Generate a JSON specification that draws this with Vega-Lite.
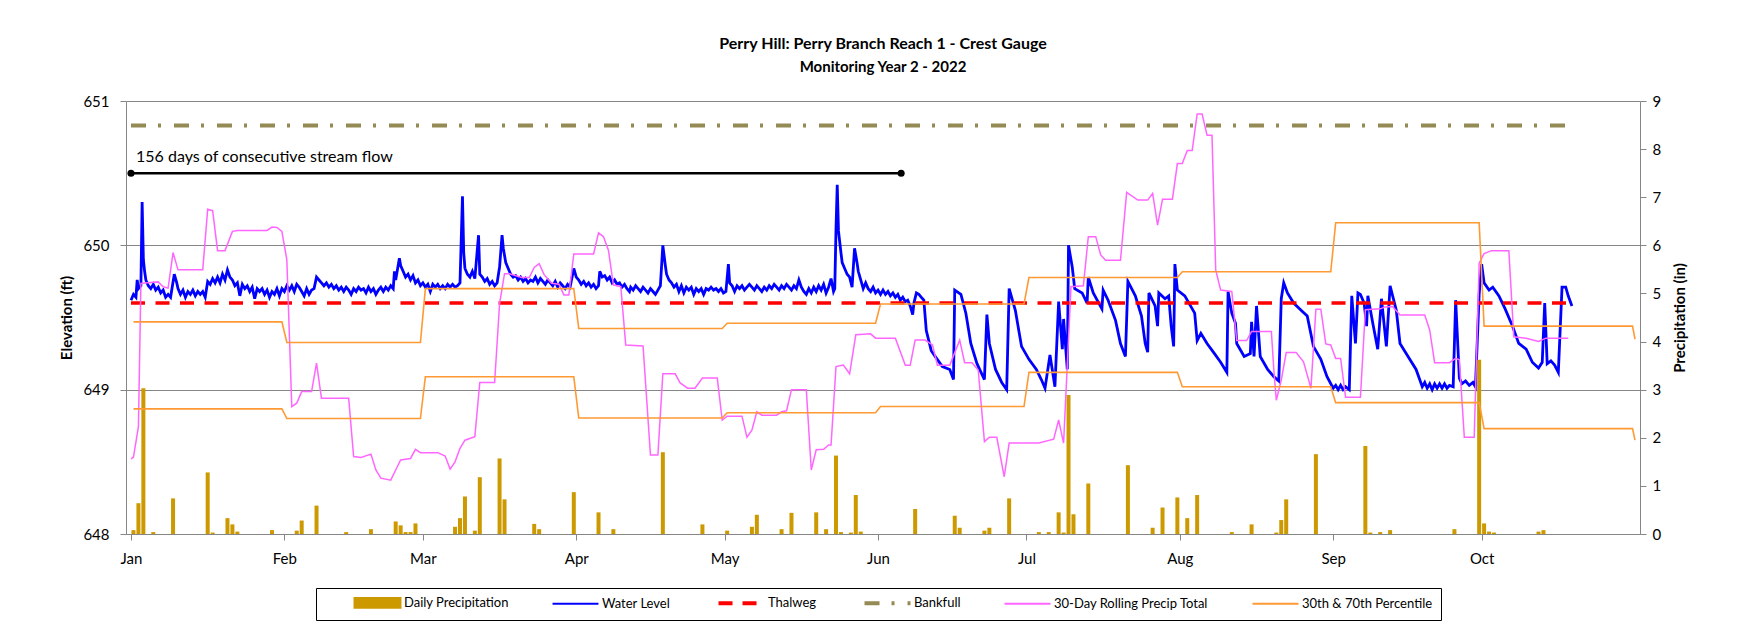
{
"$schema": "https://vega.github.io/schema/vega-lite/v6.json",
"width": 1514, "height": 433,
"autosize": {"type": "none"},
"padding": {"left": 126, "top": 101, "right": 122, "bottom": 92},
"background": "white",
"title": {"text": "Perry Hill: Perry Branch Reach 1 - Crest Gauge", "subtitle": "Monitoring Year 2 - 2022", "anchor": "middle", "frame": "group", "font": "Lato", "fontSize": 16, "fontWeight": "bold", "color": "#000", "subtitleFont": "Lato", "subtitleFontSize": 15, "subtitleFontWeight": "bold", "subtitleColor": "#000", "subtitlePadding": 8, "offset": 19},
"config": {
  "view": {"stroke": null},
  "font": "Lato",
  "axis": {"labelFont": "Lato", "titleFont": "Lato", "labelColor": "#000", "titleColor": "#000", "domainColor": "#868686", "tickColor": "#868686", "gridColor": "#868686", "labelFontSize": 15, "titleFontSize": 15, "titleFontWeight": "bold", "tickSize": 6},
  "legend": {"orient": "none", "legendX": 190, "legendY": 487, "direction": "horizontal", "columns": 6, "symbolSize": 132, "symbolStrokeWidth": 2, "symbolOffset": 16, "labelFont": "Lato", "labelFontSize": 13, "labelColor": "#000", "labelOffset": 20, "labelLimit": 300, "columnPadding": 39, "padding": 8, "strokeColor": "#000", "titleOrient": "left", "titlePadding": 31}
},
"datasets": {
"wl": [
{"t":"2022-01-01T00:00","v":649.62},{"t":"2022-01-01T12:00","v":649.66},{"t":"2022-01-02T00:00","v":649.64},{"t":"2022-01-02T06:00","v":649.76},{"t":"2022-01-02T12:00","v":649.70},{"t":"2022-01-03T00:00","v":649.72},{"t":"2022-01-03T06:00","v":650.30},{"t":"2022-01-03T12:00","v":649.90},{"t":"2022-01-03T18:00","v":649.82},{"t":"2022-01-04T00:00","v":649.76},{"t":"2022-01-04T12:00","v":649.72},{"t":"2022-01-05T00:00","v":649.70},{"t":"2022-01-05T12:00","v":649.73},{"t":"2022-01-06T00:00","v":649.69},{"t":"2022-01-06T12:00","v":649.71},{"t":"2022-01-07T00:00","v":649.67},{"t":"2022-01-07T12:00","v":649.69},{"t":"2022-01-08T00:00","v":649.64},{"t":"2022-01-08T12:00","v":649.66},{"t":"2022-01-09T00:00","v":649.64},{"t":"2022-01-09T18:00","v":649.80},{"t":"2022-01-10T06:00","v":649.74},{"t":"2022-01-10T12:00","v":649.70},{"t":"2022-01-11T00:00","v":649.66},{"t":"2022-01-11T12:00","v":649.69},{"t":"2022-01-12T00:00","v":649.64},{"t":"2022-01-12T12:00","v":649.68},{"t":"2022-01-13T00:00","v":649.66},{"t":"2022-01-13T12:00","v":649.69},{"t":"2022-01-14T00:00","v":649.65},{"t":"2022-01-14T12:00","v":649.68},{"t":"2022-01-15T00:00","v":649.66},{"t":"2022-01-15T12:00","v":649.68},{"t":"2022-01-16T00:00","v":649.64},{"t":"2022-01-16T12:00","v":649.75},{"t":"2022-01-17T00:00","v":649.73},{"t":"2022-01-17T12:00","v":649.77},{"t":"2022-01-18T00:00","v":649.74},{"t":"2022-01-18T12:00","v":649.78},{"t":"2022-01-19T00:00","v":649.74},{"t":"2022-01-19T12:00","v":649.80},{"t":"2022-01-20T00:00","v":649.76},{"t":"2022-01-20T12:00","v":649.83},{"t":"2022-01-21T00:00","v":649.78},{"t":"2022-01-21T12:00","v":649.76},{"t":"2022-01-22T00:00","v":649.72},{"t":"2022-01-22T12:00","v":649.74},{"t":"2022-01-23T00:00","v":649.65},{"t":"2022-01-23T12:00","v":649.73},{"t":"2022-01-24T00:00","v":649.70},{"t":"2022-01-24T12:00","v":649.72},{"t":"2022-01-25T00:00","v":649.68},{"t":"2022-01-25T12:00","v":649.71},{"t":"2022-01-26T00:00","v":649.63},{"t":"2022-01-26T12:00","v":649.70},{"t":"2022-01-27T00:00","v":649.68},{"t":"2022-01-27T12:00","v":649.70},{"t":"2022-01-28T00:00","v":649.66},{"t":"2022-01-28T12:00","v":649.69},{"t":"2022-01-29T00:00","v":649.64},{"t":"2022-01-29T12:00","v":649.68},{"t":"2022-01-30T00:00","v":649.66},{"t":"2022-01-30T12:00","v":649.70},{"t":"2022-01-31T00:00","v":649.65},{"t":"2022-01-31T12:00","v":649.70},
{"t":"2022-02-01T00:00","v":649.68},{"t":"2022-02-01T12:00","v":649.72},{"t":"2022-02-02T00:00","v":649.69},{"t":"2022-02-02T12:00","v":649.72},{"t":"2022-02-03T00:00","v":649.68},{"t":"2022-02-03T12:00","v":649.73},{"t":"2022-02-04T00:00","v":649.71},{"t":"2022-02-04T12:00","v":649.68},{"t":"2022-02-05T00:00","v":649.65},{"t":"2022-02-05T12:00","v":649.70},{"t":"2022-02-06T00:00","v":649.66},{"t":"2022-02-06T12:00","v":649.69},{"t":"2022-02-07T00:00","v":649.70},{"t":"2022-02-07T12:00","v":649.78},{"t":"2022-02-08T00:00","v":649.76},{"t":"2022-02-08T12:00","v":649.74},{"t":"2022-02-09T00:00","v":649.72},{"t":"2022-02-09T12:00","v":649.74},{"t":"2022-02-10T00:00","v":649.71},{"t":"2022-02-10T12:00","v":649.73},{"t":"2022-02-11T00:00","v":649.70},{"t":"2022-02-11T12:00","v":649.72},{"t":"2022-02-12T00:00","v":649.69},{"t":"2022-02-12T12:00","v":649.71},{"t":"2022-02-13T00:00","v":649.68},{"t":"2022-02-13T12:00","v":649.71},{"t":"2022-02-14T00:00","v":649.69},{"t":"2022-02-14T12:00","v":649.66},{"t":"2022-02-15T00:00","v":649.70},{"t":"2022-02-15T12:00","v":649.68},{"t":"2022-02-16T00:00","v":649.71},{"t":"2022-02-16T12:00","v":649.69},{"t":"2022-02-17T00:00","v":649.70},{"t":"2022-02-17T12:00","v":649.67},{"t":"2022-02-18T00:00","v":649.71},{"t":"2022-02-18T12:00","v":649.68},{"t":"2022-02-19T00:00","v":649.70},{"t":"2022-02-19T12:00","v":649.66},{"t":"2022-02-20T00:00","v":649.69},{"t":"2022-02-20T12:00","v":649.71},{"t":"2022-02-21T00:00","v":649.68},{"t":"2022-02-21T12:00","v":649.71},{"t":"2022-02-22T00:00","v":649.69},{"t":"2022-02-22T12:00","v":649.72},{"t":"2022-02-23T00:00","v":649.70},{"t":"2022-02-23T06:00","v":649.82},{"t":"2022-02-23T12:00","v":649.76},{"t":"2022-02-24T06:00","v":649.91},{"t":"2022-02-24T12:00","v":649.86},{"t":"2022-02-25T00:00","v":649.82},{"t":"2022-02-25T12:00","v":649.78},{"t":"2022-02-26T00:00","v":649.80},{"t":"2022-02-26T12:00","v":649.76},{"t":"2022-02-27T00:00","v":649.79},{"t":"2022-02-27T12:00","v":649.74},{"t":"2022-02-28T00:00","v":649.76},{"t":"2022-02-28T12:00","v":649.72},
{"t":"2022-03-01T00:00","v":649.74},{"t":"2022-03-01T12:00","v":649.71},{"t":"2022-03-02T00:00","v":649.73},{"t":"2022-03-02T12:00","v":649.68},{"t":"2022-03-03T00:00","v":649.73},{"t":"2022-03-03T12:00","v":649.71},{"t":"2022-03-04T00:00","v":649.73},{"t":"2022-03-04T12:00","v":649.70},{"t":"2022-03-05T00:00","v":649.72},{"t":"2022-03-05T12:00","v":649.70},{"t":"2022-03-06T00:00","v":649.73},{"t":"2022-03-06T12:00","v":649.71},{"t":"2022-03-07T00:00","v":649.73},{"t":"2022-03-07T12:00","v":649.71},{"t":"2022-03-08T00:00","v":649.72},{"t":"2022-03-08T12:00","v":649.74},{"t":"2022-03-09T00:00","v":650.34},{"t":"2022-03-09T06:00","v":649.95},{"t":"2022-03-09T12:00","v":649.84},{"t":"2022-03-10T00:00","v":649.80},{"t":"2022-03-10T12:00","v":649.78},{"t":"2022-03-11T00:00","v":649.82},{"t":"2022-03-11T12:00","v":649.77},{"t":"2022-03-12T06:00","v":650.07},{"t":"2022-03-12T12:00","v":649.80},{"t":"2022-03-13T00:00","v":649.78},{"t":"2022-03-13T12:00","v":649.75},{"t":"2022-03-14T00:00","v":649.77},{"t":"2022-03-14T12:00","v":649.73},{"t":"2022-03-15T00:00","v":649.75},{"t":"2022-03-15T12:00","v":649.72},{"t":"2022-03-16T00:00","v":649.74},{"t":"2022-03-16T12:00","v":649.85},{"t":"2022-03-17T00:00","v":650.07},{"t":"2022-03-17T06:00","v":649.98},{"t":"2022-03-17T18:00","v":649.88},{"t":"2022-03-18T06:00","v":649.84},{"t":"2022-03-18T18:00","v":649.80},{"t":"2022-03-19T06:00","v":649.78},{"t":"2022-03-19T18:00","v":649.79},{"t":"2022-03-20T06:00","v":649.76},{"t":"2022-03-20T18:00","v":649.78},{"t":"2022-03-21T06:00","v":649.75},{"t":"2022-03-21T18:00","v":649.77},{"t":"2022-03-22T06:00","v":649.74},{"t":"2022-03-22T18:00","v":649.76},{"t":"2022-03-23T06:00","v":649.75},{"t":"2022-03-23T18:00","v":649.78},{"t":"2022-03-24T06:00","v":649.74},{"t":"2022-03-24T18:00","v":649.77},{"t":"2022-03-25T06:00","v":649.75},{"t":"2022-03-25T18:00","v":649.73},{"t":"2022-03-26T06:00","v":649.76},{"t":"2022-03-26T18:00","v":649.74},{"t":"2022-03-27T06:00","v":649.72},{"t":"2022-03-27T18:00","v":649.75},{"t":"2022-03-28T06:00","v":649.71},{"t":"2022-03-28T18:00","v":649.74},{"t":"2022-03-29T06:00","v":649.72},{"t":"2022-03-29T18:00","v":649.70},{"t":"2022-03-30T06:00","v":649.73},{"t":"2022-03-30T18:00","v":649.71},{"t":"2022-03-31T12:00","v":649.84},
{"t":"2022-04-01T00:00","v":649.78},{"t":"2022-04-01T12:00","v":649.76},{"t":"2022-04-02T00:00","v":649.73},{"t":"2022-04-02T12:00","v":649.75},{"t":"2022-04-03T00:00","v":649.72},{"t":"2022-04-03T12:00","v":649.74},{"t":"2022-04-04T00:00","v":649.71},{"t":"2022-04-04T12:00","v":649.73},{"t":"2022-04-05T00:00","v":649.70},{"t":"2022-04-05T12:00","v":649.72},{"t":"2022-04-05T18:00","v":649.82},{"t":"2022-04-06T06:00","v":649.78},{"t":"2022-04-06T18:00","v":649.79},{"t":"2022-04-07T06:00","v":649.76},{"t":"2022-04-07T18:00","v":649.78},{"t":"2022-04-08T06:00","v":649.74},{"t":"2022-04-08T18:00","v":649.76},{"t":"2022-04-09T06:00","v":649.73},{"t":"2022-04-09T18:00","v":649.74},{"t":"2022-04-10T06:00","v":649.71},{"t":"2022-04-10T18:00","v":649.73},{"t":"2022-04-11T06:00","v":649.70},{"t":"2022-04-11T18:00","v":649.68},{"t":"2022-04-12T00:00","v":649.71},{"t":"2022-04-12T12:00","v":649.69},{"t":"2022-04-13T00:00","v":649.72},{"t":"2022-04-13T12:00","v":649.70},{"t":"2022-04-14T00:00","v":649.68},{"t":"2022-04-14T12:00","v":649.71},{"t":"2022-04-15T00:00","v":649.69},{"t":"2022-04-15T12:00","v":649.67},{"t":"2022-04-16T00:00","v":649.70},{"t":"2022-04-16T12:00","v":649.68},{"t":"2022-04-17T00:00","v":649.66},{"t":"2022-04-17T12:00","v":649.69},{"t":"2022-04-18T00:00","v":649.72},{"t":"2022-04-18T12:00","v":650.00},{"t":"2022-04-19T00:00","v":649.86},{"t":"2022-04-19T06:00","v":649.80},{"t":"2022-04-19T18:00","v":649.76},{"t":"2022-04-20T06:00","v":649.74},{"t":"2022-04-20T18:00","v":649.71},{"t":"2022-04-21T06:00","v":649.73},{"t":"2022-04-21T18:00","v":649.68},{"t":"2022-04-22T06:00","v":649.72},{"t":"2022-04-22T18:00","v":649.67},{"t":"2022-04-23T06:00","v":649.71},{"t":"2022-04-23T18:00","v":649.69},{"t":"2022-04-24T06:00","v":649.71},{"t":"2022-04-24T18:00","v":649.66},{"t":"2022-04-25T06:00","v":649.70},{"t":"2022-04-25T18:00","v":649.68},{"t":"2022-04-26T06:00","v":649.70},{"t":"2022-04-26T18:00","v":649.66},{"t":"2022-04-27T06:00","v":649.70},{"t":"2022-04-27T18:00","v":649.69},{"t":"2022-04-28T06:00","v":649.71},{"t":"2022-04-28T18:00","v":649.69},{"t":"2022-04-29T06:00","v":649.70},{"t":"2022-04-29T18:00","v":649.68},{"t":"2022-04-30T06:00","v":649.70},{"t":"2022-04-30T18:00","v":649.67},
{"t":"2022-05-01T06:00","v":649.68},{"t":"2022-05-01T18:00","v":649.87},{"t":"2022-05-02T00:00","v":649.74},{"t":"2022-05-02T12:00","v":649.72},{"t":"2022-05-03T00:00","v":649.68},{"t":"2022-05-03T12:00","v":649.72},{"t":"2022-05-04T00:00","v":649.70},{"t":"2022-05-04T12:00","v":649.72},{"t":"2022-05-05T00:00","v":649.69},{"t":"2022-05-05T12:00","v":649.71},{"t":"2022-05-06T00:00","v":649.73},{"t":"2022-05-06T12:00","v":649.71},{"t":"2022-05-07T00:00","v":649.69},{"t":"2022-05-07T12:00","v":649.72},{"t":"2022-05-08T00:00","v":649.70},{"t":"2022-05-08T12:00","v":649.68},{"t":"2022-05-09T00:00","v":649.71},{"t":"2022-05-09T12:00","v":649.69},{"t":"2022-05-10T00:00","v":649.72},{"t":"2022-05-10T12:00","v":649.70},{"t":"2022-05-11T00:00","v":649.73},{"t":"2022-05-11T12:00","v":649.71},{"t":"2022-05-12T00:00","v":649.69},{"t":"2022-05-12T12:00","v":649.72},{"t":"2022-05-13T00:00","v":649.70},{"t":"2022-05-13T12:00","v":649.73},{"t":"2022-05-14T00:00","v":649.71},{"t":"2022-05-14T12:00","v":649.69},{"t":"2022-05-15T00:00","v":649.72},{"t":"2022-05-15T12:00","v":649.70},{"t":"2022-05-16T00:00","v":649.76},{"t":"2022-05-16T12:00","v":649.71},{"t":"2022-05-17T00:00","v":649.68},{"t":"2022-05-17T12:00","v":649.66},{"t":"2022-05-18T00:00","v":649.70},{"t":"2022-05-18T12:00","v":649.67},{"t":"2022-05-19T00:00","v":649.71},{"t":"2022-05-19T12:00","v":649.68},{"t":"2022-05-20T00:00","v":649.72},{"t":"2022-05-20T12:00","v":649.69},{"t":"2022-05-21T00:00","v":649.73},{"t":"2022-05-21T12:00","v":649.67},{"t":"2022-05-22T00:00","v":649.71},{"t":"2022-05-22T12:00","v":649.77},{"t":"2022-05-23T00:00","v":649.68},{"t":"2022-05-23T06:00","v":649.70},{"t":"2022-05-23T12:00","v":650.11},{"t":"2022-05-23T18:00","v":650.42},{"t":"2022-05-24T00:00","v":650.10},{"t":"2022-05-24T12:00","v":649.95},{"t":"2022-05-24T18:00","v":649.88},{"t":"2022-05-25T06:00","v":649.84},{"t":"2022-05-25T18:00","v":649.80},{"t":"2022-05-26T06:00","v":649.78},{"t":"2022-05-26T18:00","v":649.71},{"t":"2022-05-27T06:00","v":649.98},{"t":"2022-05-27T18:00","v":649.88},{"t":"2022-05-28T00:00","v":649.82},{"t":"2022-05-28T12:00","v":649.76},{"t":"2022-05-29T00:00","v":649.70},{"t":"2022-05-29T12:00","v":649.74},{"t":"2022-05-30T00:00","v":649.70},{"t":"2022-05-30T12:00","v":649.68},{"t":"2022-05-31T00:00","v":649.71},{"t":"2022-05-31T12:00","v":649.67},
{"t":"2022-06-01T00:00","v":649.69},{"t":"2022-06-01T12:00","v":649.66},{"t":"2022-06-02T00:00","v":649.69},{"t":"2022-06-02T12:00","v":649.66},{"t":"2022-06-03T00:00","v":649.68},{"t":"2022-06-03T12:00","v":649.65},{"t":"2022-06-04T00:00","v":649.67},{"t":"2022-06-04T12:00","v":649.64},{"t":"2022-06-05T00:00","v":649.66},{"t":"2022-06-05T12:00","v":649.62},{"t":"2022-06-06T00:00","v":649.64},{"t":"2022-06-06T12:00","v":649.61},{"t":"2022-06-07T00:00","v":649.62},{"t":"2022-06-07T12:00","v":649.58},{"t":"2022-06-08T00:00","v":649.52},{"t":"2022-06-08T06:00","v":649.60},{"t":"2022-06-08T18:00","v":649.67},{"t":"2022-06-09T06:00","v":649.66},{"t":"2022-06-09T18:00","v":649.64},{"t":"2022-06-10T06:00","v":649.62},{"t":"2022-06-10T18:00","v":649.41},{"t":"2022-06-11T18:00","v":649.27},{"t":"2022-06-12T18:00","v":649.22},{"t":"2022-06-14T00:00","v":649.16},{"t":"2022-06-15T12:00","v":649.14},{"t":"2022-06-16T06:00","v":649.07},{"t":"2022-06-16T12:00","v":649.69},{"t":"2022-06-17T18:00","v":649.66},{"t":"2022-06-18T18:00","v":649.53},{"t":"2022-06-19T18:00","v":649.32},{"t":"2022-06-21T00:00","v":649.18},{"t":"2022-06-22T12:00","v":649.07},{"t":"2022-06-23T00:00","v":649.52},{"t":"2022-06-23T12:00","v":649.32},{"t":"2022-06-24T18:00","v":649.14},{"t":"2022-06-26T00:00","v":649.05},{"t":"2022-06-27T00:00","v":649.00},{"t":"2022-06-27T12:00","v":649.70},{"t":"2022-06-28T18:00","v":649.55},{"t":"2022-06-30T00:00","v":649.30},
{"t":"2022-07-01T12:00","v":649.21},{"t":"2022-07-03T00:00","v":649.14},{"t":"2022-07-04T00:00","v":649.07},{"t":"2022-07-04T18:00","v":649.01},{"t":"2022-07-05T18:00","v":649.24},{"t":"2022-07-06T18:00","v":649.02},{"t":"2022-07-07T12:00","v":649.61},{"t":"2022-07-08T06:00","v":649.28},{"t":"2022-07-08T12:00","v":649.49},{"t":"2022-07-09T06:00","v":649.14},{"t":"2022-07-09T12:00","v":650.00},{"t":"2022-07-10T06:00","v":649.85},{"t":"2022-07-10T18:00","v":649.70},{"t":"2022-07-12T06:00","v":649.67},{"t":"2022-07-13T06:00","v":649.60},{"t":"2022-07-13T12:00","v":649.78},{"t":"2022-07-14T12:00","v":649.67},{"t":"2022-07-16T06:00","v":649.56},{"t":"2022-07-16T12:00","v":649.69},{"t":"2022-07-17T12:00","v":649.62},{"t":"2022-07-19T00:00","v":649.48},{"t":"2022-07-20T00:00","v":649.32},{"t":"2022-07-21T00:00","v":649.23},{"t":"2022-07-21T12:00","v":649.75},{"t":"2022-07-23T00:00","v":649.65},{"t":"2022-07-24T06:00","v":649.51},{"t":"2022-07-25T00:00","v":649.32},{"t":"2022-07-25T12:00","v":649.26},{"t":"2022-07-25T18:00","v":649.67},{"t":"2022-07-27T00:00","v":649.58},{"t":"2022-07-27T12:00","v":649.44},{"t":"2022-07-27T18:00","v":649.67},{"t":"2022-07-29T00:00","v":649.63},{"t":"2022-07-29T18:00","v":649.65},{"t":"2022-07-30T06:00","v":649.44},{"t":"2022-07-30T18:00","v":649.30},{"t":"2022-07-31T00:00","v":649.87},{"t":"2022-07-31T12:00","v":649.69},
{"t":"2022-08-02T00:00","v":649.65},{"t":"2022-08-04T00:00","v":649.53},{"t":"2022-08-04T12:00","v":649.34},{"t":"2022-08-05T06:00","v":649.39},{"t":"2022-08-06T12:00","v":649.32},{"t":"2022-08-08T00:00","v":649.25},{"t":"2022-08-09T06:00","v":649.19},{"t":"2022-08-10T12:00","v":649.12},{"t":"2022-08-10T18:00","v":649.68},{"t":"2022-08-11T12:00","v":649.53},{"t":"2022-08-12T06:00","v":649.46},{"t":"2022-08-12T12:00","v":649.32},{"t":"2022-08-14T00:00","v":649.23},{"t":"2022-08-15T06:00","v":649.25},{"t":"2022-08-15T12:00","v":649.47},{"t":"2022-08-16T00:00","v":649.23},{"t":"2022-08-16T12:00","v":649.58},{"t":"2022-08-17T06:00","v":649.23},{"t":"2022-08-18T18:00","v":649.14},{"t":"2022-08-20T00:00","v":649.09},{"t":"2022-08-21T00:00","v":649.06},{"t":"2022-08-21T12:00","v":649.63},{"t":"2022-08-22T00:00","v":649.74},{"t":"2022-08-22T18:00","v":649.67},{"t":"2022-08-24T00:00","v":649.60},{"t":"2022-08-25T12:00","v":649.55},{"t":"2022-08-26T18:00","v":649.51},{"t":"2022-08-28T00:00","v":649.30},{"t":"2022-08-29T12:00","v":649.21},{"t":"2022-08-30T18:00","v":649.09},
{"t":"2022-09-01T00:00","v":649.01},{"t":"2022-09-01T12:00","v":649.03},{"t":"2022-09-02T00:00","v":649.00},{"t":"2022-09-02T12:00","v":649.03},{"t":"2022-09-03T00:00","v":649.00},{"t":"2022-09-03T12:00","v":649.02},{"t":"2022-09-04T06:00","v":649.00},{"t":"2022-09-04T18:00","v":649.65},{"t":"2022-09-05T12:00","v":649.32},{"t":"2022-09-06T00:00","v":649.67},{"t":"2022-09-06T12:00","v":649.66},{"t":"2022-09-07T06:00","v":649.60},{"t":"2022-09-07T18:00","v":649.44},{"t":"2022-09-08T00:00","v":649.65},{"t":"2022-09-09T00:00","v":649.46},{"t":"2022-09-10T00:00","v":649.28},{"t":"2022-09-10T18:00","v":649.63},{"t":"2022-09-11T18:00","v":649.30},{"t":"2022-09-12T12:00","v":649.72},{"t":"2022-09-13T18:00","v":649.55},{"t":"2022-09-14T12:00","v":649.32},{"t":"2022-09-15T18:00","v":649.25},{"t":"2022-09-17T18:00","v":649.14},{"t":"2022-09-19T00:00","v":649.02},{"t":"2022-09-19T12:00","v":649.05},{"t":"2022-09-20T00:00","v":649.01},{"t":"2022-09-20T12:00","v":649.04},{"t":"2022-09-21T00:00","v":649.00},{"t":"2022-09-21T12:00","v":649.04},{"t":"2022-09-22T00:00","v":649.01},{"t":"2022-09-22T12:00","v":649.04},{"t":"2022-09-23T00:00","v":649.01},{"t":"2022-09-23T12:00","v":649.04},{"t":"2022-09-24T00:00","v":649.01},{"t":"2022-09-24T12:00","v":649.03},{"t":"2022-09-25T06:00","v":649.02},{"t":"2022-09-25T18:00","v":649.62},{"t":"2022-09-26T12:00","v":649.08},{"t":"2022-09-27T00:00","v":649.04},{"t":"2022-09-27T18:00","v":649.06},{"t":"2022-09-28T12:00","v":649.03},{"t":"2022-09-29T06:00","v":649.05},{"t":"2022-09-29T18:00","v":649.02},{"t":"2022-09-30T12:00","v":649.66},
{"t":"2022-10-01T00:00","v":649.87},{"t":"2022-10-01T12:00","v":649.74},{"t":"2022-10-02T12:00","v":649.69},{"t":"2022-10-03T06:00","v":649.71},{"t":"2022-10-04T12:00","v":649.65},{"t":"2022-10-05T18:00","v":649.56},{"t":"2022-10-07T06:00","v":649.44},{"t":"2022-10-08T12:00","v":649.32},{"t":"2022-10-10T00:00","v":649.28},{"t":"2022-10-11T06:00","v":649.19},{"t":"2022-10-12T12:00","v":649.15},{"t":"2022-10-13T06:00","v":649.19},{"t":"2022-10-13T18:00","v":649.60},{"t":"2022-10-14T06:00","v":649.18},{"t":"2022-10-15T00:00","v":649.20},{"t":"2022-10-15T18:00","v":649.17},{"t":"2022-10-16T12:00","v":649.12},{"t":"2022-10-17T06:00","v":649.71},{"t":"2022-10-18T00:00","v":649.71},{"t":"2022-10-18T12:00","v":649.65},{"t":"2022-10-19T06:00","v":649.58}
],
"thalweg": [{"t":"2022-01-01T00:00","v":649.6},{"t":"2022-10-19T08:00","v":649.6}],
"bankfull": [{"t":"2022-01-01T00:00","v":650.83},{"t":"2022-10-19T08:00","v":650.83}],
"flow": [{"t":"2022-01-01T00:00","v":650.5},{"t":"2022-06-05T16:00","v":650.5}],
"note": [{"t":"2022-01-01T00:00","v":650.5,"label":"156 days of consecutive stream flow"}],
"precip": [
{"t":"2022-01-01T12:00","p":0.08},{"t":"2022-01-02T12:00","p":0.64},{"t":"2022-01-03T12:00","p":3.03},{"t":"2022-01-05T12:00","p":0.04},{"t":"2022-01-09T12:00","p":0.74},{"t":"2022-01-16T12:00","p":1.28},{"t":"2022-01-17T12:00","p":0.03},{"t":"2022-01-20T12:00","p":0.33},{"t":"2022-01-21T12:00","p":0.20},{"t":"2022-01-22T12:00","p":0.05},{"t":"2022-01-29T12:00","p":0.08},
{"t":"2022-02-03T12:00","p":0.07},{"t":"2022-02-04T12:00","p":0.28},{"t":"2022-02-07T12:00","p":0.59},{"t":"2022-02-13T12:00","p":0.04},{"t":"2022-02-18T12:00","p":0.10},{"t":"2022-02-23T12:00","p":0.26},{"t":"2022-02-24T12:00","p":0.18},{"t":"2022-02-25T12:00","p":0.04},{"t":"2022-02-26T12:00","p":0.04},{"t":"2022-02-27T12:00","p":0.22},
{"t":"2022-03-07T12:00","p":0.15},{"t":"2022-03-08T12:00","p":0.33},{"t":"2022-03-09T12:00","p":0.78},{"t":"2022-03-11T12:00","p":0.07},{"t":"2022-03-12T12:00","p":1.18},{"t":"2022-03-16T12:00","p":1.57},{"t":"2022-03-17T12:00","p":0.72},{"t":"2022-03-23T12:00","p":0.21},{"t":"2022-03-24T12:00","p":0.10},{"t":"2022-03-31T12:00","p":0.87},
{"t":"2022-04-05T12:00","p":0.45},{"t":"2022-04-08T12:00","p":0.10},{"t":"2022-04-18T12:00","p":1.70},{"t":"2022-04-26T12:00","p":0.20},
{"t":"2022-05-01T12:00","p":0.07},{"t":"2022-05-06T12:00","p":0.15},{"t":"2022-05-07T12:00","p":0.40},{"t":"2022-05-12T12:00","p":0.10},{"t":"2022-05-14T12:00","p":0.44},{"t":"2022-05-19T12:00","p":0.45},{"t":"2022-05-21T12:00","p":0.10},{"t":"2022-05-23T12:00","p":1.63},{"t":"2022-05-24T12:00","p":0.04},{"t":"2022-05-26T12:00","p":0.03},{"t":"2022-05-27T12:00","p":0.81},{"t":"2022-05-28T12:00","p":0.05},
{"t":"2022-06-08T12:00","p":0.52},{"t":"2022-06-16T12:00","p":0.38},{"t":"2022-06-17T12:00","p":0.13},{"t":"2022-06-22T12:00","p":0.07},{"t":"2022-06-23T12:00","p":0.13},{"t":"2022-06-27T12:00","p":0.74},
{"t":"2022-07-03T12:00","p":0.04},{"t":"2022-07-05T12:00","p":0.04},{"t":"2022-07-07T12:00","p":0.45},{"t":"2022-07-08T12:00","p":0.03},{"t":"2022-07-09T12:00","p":2.89},{"t":"2022-07-10T12:00","p":0.41},{"t":"2022-07-13T12:00","p":1.05},{"t":"2022-07-21T12:00","p":1.43},{"t":"2022-07-26T12:00","p":0.13},{"t":"2022-07-28T12:00","p":0.55},{"t":"2022-07-31T12:00","p":0.76},
{"t":"2022-08-02T12:00","p":0.33},{"t":"2022-08-04T12:00","p":0.81},{"t":"2022-08-11T12:00","p":0.04},{"t":"2022-08-15T12:00","p":0.20},{"t":"2022-08-20T12:00","p":0.03},{"t":"2022-08-21T12:00","p":0.29},{"t":"2022-08-22T12:00","p":0.72},{"t":"2022-08-28T12:00","p":1.66},
{"t":"2022-09-07T12:00","p":1.83},{"t":"2022-09-08T12:00","p":0.03},{"t":"2022-09-10T12:00","p":0.04},{"t":"2022-09-12T12:00","p":0.08},{"t":"2022-09-25T12:00","p":0.10},{"t":"2022-09-30T12:00","p":3.62},
{"t":"2022-10-01T12:00","p":0.22},{"t":"2022-10-02T12:00","p":0.05},{"t":"2022-10-03T12:00","p":0.03},{"t":"2022-10-12T12:00","p":0.05},{"t":"2022-10-13T12:00","p":0.08}
],
"roll": [
{"t":"2022-01-01T00:00","p":1.56},{"t":"2022-01-01T12:00","p":1.60},{"t":"2022-01-02T12:00","p":2.23},{"t":"2022-01-03T00:00","p":5.21},{"t":"2022-01-06T12:00","p":5.24},{"t":"2022-01-07T12:00","p":5.14},{"t":"2022-01-08T12:00","p":5.11},{"t":"2022-01-09T12:00","p":5.85},{"t":"2022-01-10T12:00","p":5.49},{"t":"2022-01-15T12:00","p":5.49},{"t":"2022-01-16T12:00","p":6.75},{"t":"2022-01-17T12:00","p":6.72},{"t":"2022-01-18T12:00","p":5.89},{"t":"2022-01-20T00:00","p":5.89},{"t":"2022-01-21T12:00","p":6.29},{"t":"2022-01-22T12:00","p":6.31},{"t":"2022-01-28T12:00","p":6.31},{"t":"2022-01-29T12:00","p":6.38},{"t":"2022-01-30T12:00","p":6.37},{"t":"2022-01-31T12:00","p":6.29},
{"t":"2022-02-01T12:00","p":5.70},{"t":"2022-02-02T12:00","p":2.65},{"t":"2022-02-03T12:00","p":2.72},{"t":"2022-02-04T12:00","p":2.96},{"t":"2022-02-06T12:00","p":2.96},{"t":"2022-02-07T12:00","p":3.55},{"t":"2022-02-08T12:00","p":2.82},{"t":"2022-02-14T00:00","p":2.82},{"t":"2022-02-15T00:00","p":1.61},{"t":"2022-02-16T12:00","p":1.59},{"t":"2022-02-18T12:00","p":1.66},{"t":"2022-02-19T12:00","p":1.33},{"t":"2022-02-20T12:00","p":1.16},{"t":"2022-02-22T12:00","p":1.12},{"t":"2022-02-23T12:00","p":1.33},{"t":"2022-02-24T12:00","p":1.54},{"t":"2022-02-26T12:00","p":1.57},{"t":"2022-02-27T12:00","p":1.76},{"t":"2022-02-28T12:00","p":1.69},
{"t":"2022-03-04T00:00","p":1.69},{"t":"2022-03-05T12:00","p":1.62},{"t":"2022-03-06T12:00","p":1.35},{"t":"2022-03-07T12:00","p":1.50},{"t":"2022-03-08T12:00","p":1.78},{"t":"2022-03-09T12:00","p":1.95},{"t":"2022-03-11T12:00","p":2.02},{"t":"2022-03-12T12:00","p":3.15},{"t":"2022-03-15T12:00","p":3.15},{"t":"2022-03-16T12:00","p":4.79},{"t":"2022-03-17T12:00","p":5.41},{"t":"2022-03-18T12:00","p":5.41},{"t":"2022-03-21T00:00","p":5.33},{"t":"2022-03-22T12:00","p":5.33},{"t":"2022-03-23T12:00","p":5.54},{"t":"2022-03-24T12:00","p":5.62},{"t":"2022-03-25T12:00","p":5.39},{"t":"2022-03-27T00:00","p":5.21},{"t":"2022-03-28T12:00","p":5.19},{"t":"2022-03-29T12:00","p":4.97},{"t":"2022-03-30T12:00","p":4.97},{"t":"2022-03-31T12:00","p":5.82},
{"t":"2022-04-04T12:00","p":5.82},{"t":"2022-04-05T12:00","p":6.26},{"t":"2022-04-06T12:00","p":6.18},{"t":"2022-04-07T12:00","p":5.90},{"t":"2022-04-08T12:00","p":5.18},{"t":"2022-04-10T00:00","p":5.14},{"t":"2022-04-11T00:00","p":3.93},{"t":"2022-04-14T12:00","p":3.91},{"t":"2022-04-16T00:00","p":1.64},{"t":"2022-04-17T12:00","p":1.64},{"t":"2022-04-18T12:00","p":3.33},{"t":"2022-04-21T00:00","p":3.33},{"t":"2022-04-22T00:00","p":3.14},{"t":"2022-04-23T12:00","p":3.03},{"t":"2022-04-25T00:00","p":3.03},{"t":"2022-04-26T12:00","p":3.24},{"t":"2022-04-29T12:00","p":3.24},{"t":"2022-04-30T12:00","p":2.37},
{"t":"2022-05-01T12:00","p":2.45},{"t":"2022-05-04T12:00","p":2.45},{"t":"2022-05-05T12:00","p":2.01},{"t":"2022-05-06T12:00","p":2.16},{"t":"2022-05-07T12:00","p":2.54},{"t":"2022-05-08T12:00","p":2.47},{"t":"2022-05-11T12:00","p":2.47},{"t":"2022-05-12T12:00","p":2.54},{"t":"2022-05-13T12:00","p":2.56},{"t":"2022-05-14T12:00","p":3.00},{"t":"2022-05-17T12:00","p":3.00},{"t":"2022-05-18T12:00","p":1.33},{"t":"2022-05-19T12:00","p":1.75},{"t":"2022-05-21T00:00","p":1.76},{"t":"2022-05-22T00:00","p":1.85},{"t":"2022-05-22T12:00","p":1.85},{"t":"2022-05-23T12:00","p":3.48},{"t":"2022-05-25T00:00","p":3.51},{"t":"2022-05-26T06:00","p":3.33},{"t":"2022-05-27T12:00","p":4.14},{"t":"2022-05-30T12:00","p":4.16},{"t":"2022-05-31T12:00","p":4.07},
{"t":"2022-06-04T12:00","p":4.07},{"t":"2022-06-06T12:00","p":3.51},{"t":"2022-06-07T12:00","p":3.51},{"t":"2022-06-08T12:00","p":4.03},{"t":"2022-06-10T12:00","p":4.03},{"t":"2022-06-12T00:00","p":3.93},{"t":"2022-06-13T00:00","p":3.51},{"t":"2022-06-15T12:00","p":3.51},{"t":"2022-06-17T12:00","p":4.03},{"t":"2022-06-18T12:00","p":3.56},{"t":"2022-06-20T00:00","p":3.56},{"t":"2022-06-21T06:00","p":3.41},{"t":"2022-06-22T12:00","p":1.92},{"t":"2022-06-23T12:00","p":2.01},{"t":"2022-06-25T00:00","p":2.01},{"t":"2022-06-26T12:00","p":1.19},{"t":"2022-06-27T12:00","p":1.89},
{"t":"2022-07-03T12:00","p":1.89},{"t":"2022-07-06T12:00","p":1.97},{"t":"2022-07-07T12:00","p":2.37},{"t":"2022-07-08T12:00","p":1.89},{"t":"2022-07-10T00:00","p":5.14},{"t":"2022-07-12T12:00","p":5.16},{"t":"2022-07-13T12:00","p":6.18},{"t":"2022-07-15T00:00","p":6.18},{"t":"2022-07-16T00:00","p":5.80},{"t":"2022-07-17T00:00","p":5.69},{"t":"2022-07-20T00:00","p":5.69},{"t":"2022-07-21T06:00","p":7.10},{"t":"2022-07-23T12:00","p":6.94},{"t":"2022-07-25T12:00","p":6.94},{"t":"2022-07-26T12:00","p":7.08},{"t":"2022-07-27T12:00","p":6.42},{"t":"2022-07-28T12:00","p":6.96},{"t":"2022-07-30T12:00","p":6.96},{"t":"2022-07-31T12:00","p":7.70},
{"t":"2022-08-01T12:00","p":7.70},{"t":"2022-08-02T12:00","p":7.97},{"t":"2022-08-03T12:00","p":7.97},{"t":"2022-08-04T12:00","p":8.73},{"t":"2022-08-05T12:00","p":8.73},{"t":"2022-08-06T12:00","p":8.29},{"t":"2022-08-07T12:00","p":8.29},{"t":"2022-08-08T06:00","p":5.49},{"t":"2022-08-09T06:00","p":5.07},{"t":"2022-08-11T12:00","p":5.04},{"t":"2022-08-12T12:00","p":4.02},{"t":"2022-08-14T12:00","p":4.02},{"t":"2022-08-15T12:00","p":4.21},{"t":"2022-08-19T12:00","p":4.21},{"t":"2022-08-20T00:00","p":3.41},{"t":"2022-08-20T12:00","p":2.78},{"t":"2022-08-21T12:00","p":3.20},{"t":"2022-08-22T12:00","p":3.77},{"t":"2022-08-24T12:00","p":3.77},{"t":"2022-08-26T00:00","p":3.58},{"t":"2022-08-27T12:00","p":3.03},{"t":"2022-08-28T12:00","p":4.67},{"t":"2022-08-29T12:00","p":4.67},{"t":"2022-08-30T12:00","p":3.95},{"t":"2022-08-31T12:00","p":3.93},
{"t":"2022-09-01T12:00","p":3.65},{"t":"2022-09-02T12:00","p":3.65},{"t":"2022-09-03T12:00","p":2.84},{"t":"2022-09-06T12:00","p":2.84},{"t":"2022-09-07T12:00","p":4.66},{"t":"2022-09-10T12:00","p":4.68},{"t":"2022-09-11T12:00","p":4.72},{"t":"2022-09-13T00:00","p":4.73},{"t":"2022-09-14T12:00","p":4.55},{"t":"2022-09-19T12:00","p":4.55},{"t":"2022-09-20T12:00","p":4.24},{"t":"2022-09-21T12:00","p":3.56},{"t":"2022-09-24T12:00","p":3.56},{"t":"2022-09-25T18:00","p":3.65},{"t":"2022-09-26T12:00","p":3.62},{"t":"2022-09-27T12:00","p":2.01},{"t":"2022-09-29T12:00","p":2.01},{"t":"2022-09-30T12:00","p":5.63},
{"t":"2022-10-01T12:00","p":5.83},{"t":"2022-10-03T00:00","p":5.89},{"t":"2022-10-06T12:00","p":5.89},{"t":"2022-10-07T12:00","p":4.10},{"t":"2022-10-10T00:00","p":4.07},{"t":"2022-10-12T12:00","p":4.00},{"t":"2022-10-14T00:00","p":4.07},{"t":"2022-10-18T12:00","p":4.07}
],
"pct": [
{"t":"2022-01-01T12:00","p":4.41,"k":"70th"},{"t":"2022-01-31T12:00","p":4.41,"k":"70th"},{"t":"2022-02-01T12:00","p":3.98,"k":"70th"},{"t":"2022-02-28T12:00","p":3.98,"k":"70th"},{"t":"2022-03-01T12:00","p":5.10,"k":"70th"},{"t":"2022-03-31T12:00","p":5.10,"k":"70th"},{"t":"2022-04-01T12:00","p":4.27,"k":"70th"},{"t":"2022-04-30T12:00","p":4.27,"k":"70th"},{"t":"2022-05-01T12:00","p":4.38,"k":"70th"},{"t":"2022-05-31T12:00","p":4.38,"k":"70th"},{"t":"2022-06-01T12:00","p":4.78,"k":"70th"},{"t":"2022-06-30T12:00","p":4.78,"k":"70th"},{"t":"2022-07-01T12:00","p":5.33,"k":"70th"},{"t":"2022-07-31T12:00","p":5.33,"k":"70th"},{"t":"2022-08-01T12:00","p":5.45,"k":"70th"},{"t":"2022-08-31T12:00","p":5.45,"k":"70th"},{"t":"2022-09-01T12:00","p":6.47,"k":"70th"},{"t":"2022-09-30T12:00","p":6.47,"k":"70th"},{"t":"2022-10-01T12:00","p":4.32,"k":"70th"},{"t":"2022-10-31T12:00","p":4.32,"k":"70th"},{"t":"2022-11-01T00:00","p":4.05,"k":"70th"},
{"t":"2022-01-01T12:00","p":2.60,"k":"30th"},{"t":"2022-01-31T12:00","p":2.60,"k":"30th"},{"t":"2022-02-01T12:00","p":2.40,"k":"30th"},{"t":"2022-02-28T12:00","p":2.40,"k":"30th"},{"t":"2022-03-01T12:00","p":3.27,"k":"30th"},{"t":"2022-03-31T12:00","p":3.27,"k":"30th"},{"t":"2022-04-01T12:00","p":2.41,"k":"30th"},{"t":"2022-04-30T12:00","p":2.41,"k":"30th"},{"t":"2022-05-01T12:00","p":2.52,"k":"30th"},{"t":"2022-05-31T12:00","p":2.52,"k":"30th"},{"t":"2022-06-01T12:00","p":2.65,"k":"30th"},{"t":"2022-06-30T12:00","p":2.65,"k":"30th"},{"t":"2022-07-01T12:00","p":3.36,"k":"30th"},{"t":"2022-07-31T12:00","p":3.36,"k":"30th"},{"t":"2022-08-01T12:00","p":3.06,"k":"30th"},{"t":"2022-08-31T12:00","p":3.06,"k":"30th"},{"t":"2022-09-01T12:00","p":2.73,"k":"30th"},{"t":"2022-09-30T12:00","p":2.73,"k":"30th"},{"t":"2022-10-01T12:00","p":2.19,"k":"30th"},{"t":"2022-10-31T12:00","p":2.19,"k":"30th"},{"t":"2022-11-01T00:00","p":1.95,"k":"30th"}
]
},
"layer": [
{
 "encoding": {
  "x": {"field": "t", "type": "temporal", "scale": {"domain": [{"year": 2022, "month": 1, "date": 1}, {"year": 2022, "month": 11, "date": 1}]}, "axis": {"title": null, "format": "%b", "values": [{"year":2022,"month":1,"date":1},{"year":2022,"month":2,"date":1},{"year":2022,"month":3,"date":1},{"year":2022,"month":4,"date":1},{"year":2022,"month":5,"date":1},{"year":2022,"month":6,"date":1},{"year":2022,"month":7,"date":1},{"year":2022,"month":8,"date":1},{"year":2022,"month":9,"date":1},{"year":2022,"month":10,"date":1}], "labelFlush": false, "labelOverlap": false, "grid": false, "labelPadding": 11}},
  "y": {"field": "v", "type": "quantitative", "scale": {"domain": [648, 651], "zero": false, "nice": false}, "axis": {"orient": "left", "title": "Elevation (ft)", "values": [648, 649, 650, 651], "format": "d", "grid": true, "labelPadding": 11, "titlePadding": 8}}
 },
 "layer": [
  {"data": {"name": "wl"}, "mark": {"type": "line", "strokeWidth": 2.8, "strokeJoin": "miter"},
   "encoding": {"color": {"datum": "Water Level", "scale": {"domain": ["Daily Precipitation", "Water Level", "Thalweg", "Bankfull", "30-Day Rolling Precip Total", "30th & 70th Percentile"], "range": ["#CC9900", "#0000FF", "#FF0000", "#948A54", "#FF66FF", "#FF9933"]},
     "legend": {"title": " ", "symbolType": "stroke", "encode": {"symbols": {"update": {
       "shape": {"signal": "datum.value === 'Daily Precipitation' ? 'M-4,-0.85H4V0.85H-4Z' : 'M-4,0H4'"},
       "stroke": {"scale": "color", "field": "value"},
       "fill": {"signal": "datum.value === 'Daily Precipitation' ? '#CC9900' : 'transparent'"},
       "strokeCap": {"value": "butt"},
       "strokeWidth": {"signal": "(datum.value === 'Thalweg' || datum.value === 'Bankfull') ? 4 : 2"},
       "strokeDash": {"signal": "datum.value === 'Thalweg' ? [14, 10] : datum.value === 'Bankfull' ? [15, 12, 3, 13] : [1, 0]"}}}}}}}},
  {"data": {"name": "thalweg"}, "mark": {"type": "line", "strokeWidth": 3.5, "strokeDash": [14, 10.5], "strokeCap": "butt"},
   "encoding": {"color": {"datum": "Thalweg", "scale": {"domain": ["Daily Precipitation", "Water Level", "Thalweg", "Bankfull", "30-Day Rolling Precip Total", "30th & 70th Percentile"], "range": ["#CC9900", "#0000FF", "#FF0000", "#948A54", "#FF66FF", "#FF9933"]}, "legend": {"title": " ", "symbolType": "stroke"}}}},
  {"data": {"name": "bankfull"}, "mark": {"type": "line", "strokeWidth": 4, "strokeDash": [15, 12, 3, 13], "strokeCap": "butt"},
   "encoding": {"color": {"datum": "Bankfull", "scale": {"domain": ["Daily Precipitation", "Water Level", "Thalweg", "Bankfull", "30-Day Rolling Precip Total", "30th & 70th Percentile"], "range": ["#CC9900", "#0000FF", "#FF0000", "#948A54", "#FF66FF", "#FF9933"]}, "legend": {"title": " ", "symbolType": "stroke"}}}},
  {"data": {"name": "flow"}, "mark": {"type": "line", "color": "#000000", "strokeWidth": 2.5, "point": {"filled": true, "size": 50, "color": "#000000"}}, "encoding": {}},
  {"data": {"name": "note"}, "mark": {"type": "text", "align": "left", "baseline": "alphabetic", "dx": 5, "dy": -11, "font": "Lato", "fontSize": 16, "color": "#000000"}, "encoding": {"text": {"field": "label"}}}
 ]
},
{
 "encoding": {
  "x": {"field": "t", "type": "temporal", "scale": {"domain": [{"year": 2022, "month": 1, "date": 1}, {"year": 2022, "month": 11, "date": 1}]}},
  "y": {"field": "p", "type": "quantitative", "scale": {"domain": [0, 9], "nice": false}, "axis": {"orient": "right", "title": "Precipitation (in)", "titleAngle": 270, "titleBaseline": "top", "values": [0, 1, 2, 3, 4, 5, 6, 7, 8, 9], "format": "d", "grid": false, "labelPadding": 6, "titlePadding": 12}}
 },
 "layer": [
  {"data": {"name": "precip"}, "mark": {"type": "bar", "size": 4},
   "encoding": {"color": {"datum": "Daily Precipitation", "scale": {"domain": ["Daily Precipitation", "Water Level", "Thalweg", "Bankfull", "30-Day Rolling Precip Total", "30th & 70th Percentile"], "range": ["#CC9900", "#0000FF", "#FF0000", "#948A54", "#FF66FF", "#FF9933"]}, "legend": {"title": " ", "symbolType": "stroke"}}}},
  {"data": {"name": "roll"}, "mark": {"type": "line", "strokeWidth": 1.5},
   "encoding": {"color": {"datum": "30-Day Rolling Precip Total", "scale": {"domain": ["Daily Precipitation", "Water Level", "Thalweg", "Bankfull", "30-Day Rolling Precip Total", "30th & 70th Percentile"], "range": ["#CC9900", "#0000FF", "#FF0000", "#948A54", "#FF66FF", "#FF9933"]}, "legend": {"title": " ", "symbolType": "stroke"}}}},
  {"data": {"name": "pct"}, "mark": {"type": "line", "strokeWidth": 1.6},
   "encoding": {"detail": {"field": "k", "type": "nominal"}, "color": {"datum": "30th & 70th Percentile", "scale": {"domain": ["Daily Precipitation", "Water Level", "Thalweg", "Bankfull", "30-Day Rolling Precip Total", "30th & 70th Percentile"], "range": ["#CC9900", "#0000FF", "#FF0000", "#948A54", "#FF66FF", "#FF9933"]}, "legend": {"title": " ", "symbolType": "stroke"}}}}
 ]
}
],
"resolve": {"scale": {"y": "independent"}}
}
